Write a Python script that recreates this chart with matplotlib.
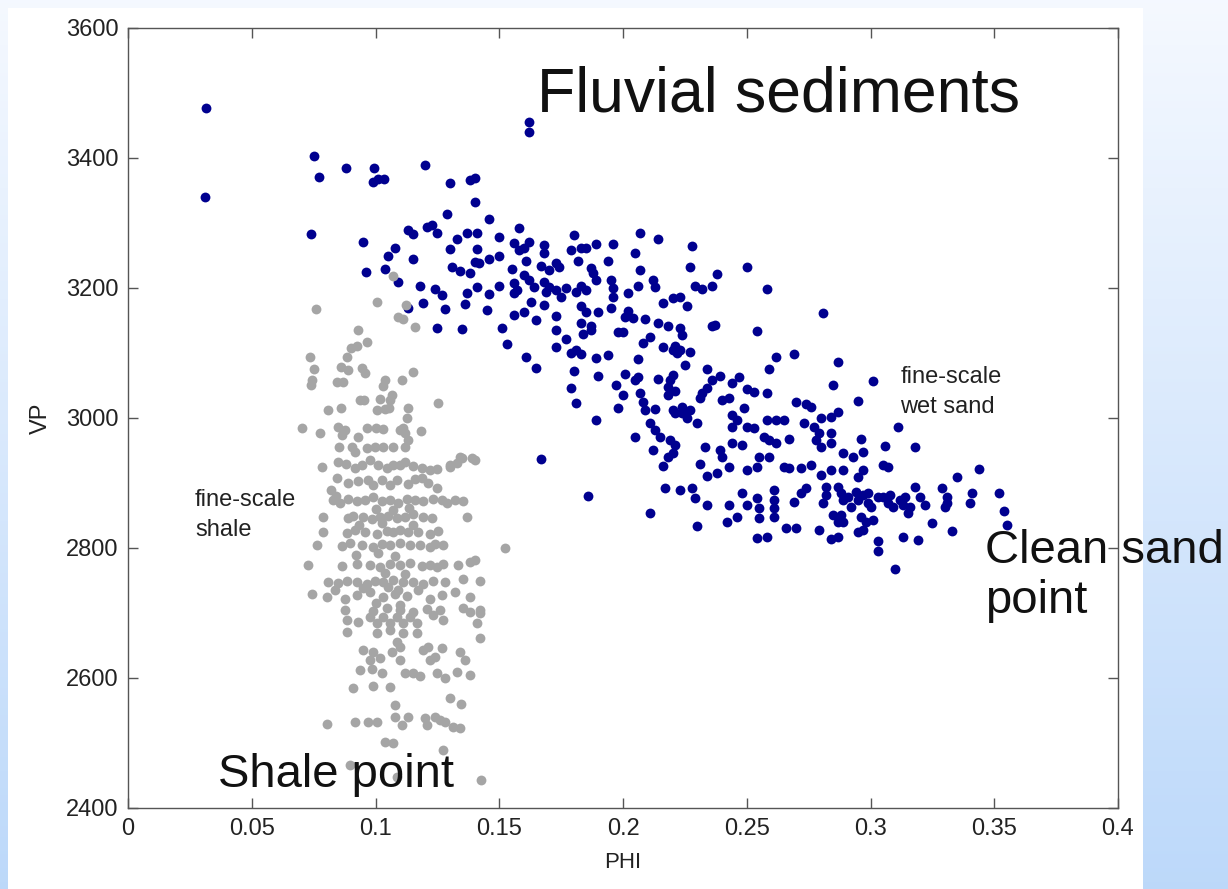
import matplotlib
matplotlib.use("Agg")
import matplotlib.pyplot as plt
from matplotlib.patches import Rectangle
import numpy as np

plt.rcParams["font.family"] = ["Liberation Sans", "DejaVu Sans"]

## fine-scale wet sand (PHI, VP)
sand_phi = [
    0.0315, 0.031, 0.075, 0.077, 0.088, 0.0994, 0.099, 0.101, 0.1034, 0.120, 0.130, 0.138, 0.140, 0.140,
    0.074, 0.095, 0.129, 0.146, 0.113, 0.115, 0.121, 0.123, 0.125, 0.137, 0.141, 0.133, 0.150, 0.108,
    0.105, 0.115, 0.130, 0.141, 0.096, 0.104, 0.109, 0.131, 0.134, 0.138, 0.140, 0.142, 0.146, 0.150,
    0.155, 0.118, 0.124, 0.127, 0.141, 0.137, 0.150, 0.146, 0.156, 0.157, 0.113, 0.119, 0.128, 0.136,
    0.145, 0.125, 0.135, 0.151, 0.156, 0.153, 0.156, 0.158, 0.158, 0.162, 0.162,
    0.162, 0.160, 0.180, 0.207, 0.214, 0.228, 0.168, 0.168, 0.179, 0.183, 0.185, 0.189, 0.196, 0.205,
    0.161, 0.167, 0.173, 0.174, 0.170, 0.182, 0.187, 0.188, 0.189, 0.194, 0.207, 0.227, 0.238, 0.250,
    0.156, 0.160, 0.162, 0.164, 0.168, 0.170, 0.173, 0.169, 0.175, 0.177, 0.181, 0.183, 0.185, 0.195,
    0.196, 0.196, 0.202, 0.206, 0.212, 0.213, 0.229, 0.232, 0.236, 0.258,
    0.163, 0.160, 0.165, 0.168, 0.173, 0.183, 0.185, 0.190, 0.195, 0.202, 0.201, 0.204, 0.216, 0.220,
    0.223, 0.226, 0.209, 0.281,
    0.173, 0.183, 0.187, 0.184, 0.187, 0.198, 0.200, 0.214, 0.218, 0.223, 0.224, 0.236, 0.237, 0.254,
    0.211, 0.208,
    0.173, 0.177, 0.161, 0.165, 0.179, 0.181, 0.183, 0.189, 0.194, 0.206, 0.216, 0.220, 0.222, 0.221,
    0.223, 0.227, 0.225, 0.262, 0.269, 0.287, 0.259,
    0.180, 0.190, 0.201, 0.205, 0.206, 0.214, 0.219, 0.220, 0.218, 0.234, 0.236, 0.239, 0.234, 0.244,
    0.247, 0.250, 0.253, 0.258, 0.285, 0.301, 0.179, 0.197, 0.221,
    0.181, 0.200, 0.198, 0.207, 0.208, 0.209, 0.213, 0.218, 0.220, 0.221, 0.224, 0.224, 0.226, 0.227,
    0.231, 0.232, 0.240, 0.243, 0.244, 0.246, 0.249, 0.253, 0.250, 0.244, 0.270, 0.274, 0.276, 0.295,
    0.287, 0.284, 0.280, 0.273, 0.189, 0.230,
    0.211, 0.213, 0.215, 0.205, 0.219, 0.221, 0.258, 0.262, 0.265, 0.257, 0.259, 0.262, 0.267, 0.277,
    0.279, 0.278, 0.284, 0.280, 0.284, 0.296, 0.306, 0.311, 0.233, 0.239, 0.240, 0.244, 0.248, 0.212,
    0.167, 0.218, 0.220, 0.216, 0.231, 0.238, 0.234, 0.243, 0.250, 0.254, 0.255, 0.259, 0.265, 0.267,
    0.272, 0.276, 0.280, 0.284, 0.289, 0.293, 0.297, 0.289, 0.297, 0.305, 0.307, 0.295,
    0.318, 0.344, 0.335,
    0.272, 0.274, 0.282, 0.282, 0.281, 0.287, 0.288, 0.289, 0.291, 0.292, 0.294, 0.295, 0.297, 0.299,
    0.300, 0.299, 0.296, 0.298, 0.301, 0.295, 0.297, 0.287, 0.289, 0.285, 0.288, 0.279, 0.284, 0.287,
    0.303, 0.303, 0.310, 0.308, 0.307, 0.309, 0.312, 0.314, 0.313, 0.315, 0.316, 0.318, 0.320, 0.322,
    0.313, 0.319, 0.325, 0.329, 0.331, 0.331, 0.330, 0.333, 0.340, 0.341, 0.352, 0.354, 0.355, 0.303,
    0.305,
    0.186, 0.211, 0.217, 0.223, 0.228, 0.229, 0.234, 0.230, 0.243, 0.246, 0.242, 0.248, 0.250, 0.254,
    0.255, 0.255, 0.254, 0.258, 0.261, 0.261, 0.261, 0.261, 0.266, 0.270, 0.269,
]
sand_vp = [
    3477, 3340, 3403, 3371, 3385, 3385, 3363, 3368, 3368, 3389, 3362, 3366, 3369, 3332,
    3283, 3271, 3314, 3306, 3289, 3283, 3294, 3297, 3285, 3285, 3285, 3275, 3278, 3262,
    3249, 3245, 3260, 3260, 3225, 3229, 3209, 3232, 3226, 3223, 3240, 3238, 3245, 3249,
    3229, 3203, 3198, 3189, 3202, 3192, 3203, 3191, 3208, 3197, 3169, 3177, 3168, 3175,
    3166, 3138, 3137, 3138, 3158, 3114, 3269, 3258, 3292, 3455, 3440,
    3271, 3262, 3282, 3285, 3275, 3265, 3266, 3254, 3258, 3262, 3262, 3268, 3268, 3254,
    3242, 3234, 3238, 3232, 3228, 3242, 3231, 3223, 3212, 3242, 3228, 3232, 3222, 3232,
    3192, 3220, 3212, 3202, 3209, 3202, 3197, 3194, 3186, 3200, 3194, 3203, 3197, 3212,
    3200, 3186, 3192, 3203, 3212, 3202, 3203, 3198, 3203, 3198,
    3178, 3163, 3151, 3174, 3157, 3172, 3163, 3163, 3169, 3165, 3155, 3154, 3177, 3185,
    3186, 3172, 3152, 3162,
    3135, 3146, 3142, 3129, 3135, 3132, 3132, 3146, 3142, 3138, 3128, 3142, 3143, 3134,
    3125, 3115,
    3109, 3122, 3094, 3077, 3100, 3105, 3098, 3092, 3097, 3091, 3109, 3105, 3100, 3111,
    3105, 3102, 3082, 3094, 3098, 3086, 3075,
    3072, 3065, 3068, 3058, 3063, 3060, 3058, 3066, 3048, 3075, 3058, 3065, 3046, 3054,
    3063, 3045, 3040, 3038, 3051, 3057, 3046, 3051, 3042,
    3023, 3035, 3015, 3038, 3025, 3012, 3014, 3035, 3012, 3008, 3017, 3008, 3000, 3012,
    3031, 3038, 3028, 3031, 3005, 2997, 3015, 2985, 2986, 2986, 3025, 3022, 3017, 3026,
    3009, 3002, 3000, 2992, 2997, 2992,
    2992, 2982, 2971, 2971, 2966, 2958, 2997, 2997, 2997, 2971, 2966, 2962, 2968, 2986,
    2977, 2966, 2977, 2955, 2962, 2968, 2957, 2986, 2955, 2951, 2940, 2962, 2958, 2951,
    2937, 2940, 2946, 2926, 2929, 2915, 2911, 2925, 2920, 2925, 2940, 2940, 2925, 2923,
    2923, 2928, 2912, 2920, 2946, 2940, 2948, 2920, 2920, 2928, 2925, 2909,
    2955, 2922, 2909,
    2885, 2892, 2894, 2882, 2869, 2894, 2885, 2874, 2878, 2863, 2886, 2874, 2882, 2869,
    2863, 2885, 2848, 2840, 2843, 2825, 2828, 2840, 2840, 2851, 2851, 2828, 2814, 2817,
    2811, 2795, 2768, 2882, 2869, 2863, 2874, 2878, 2866, 2854, 2863, 2894, 2878, 2866,
    2817, 2812, 2838, 2892, 2878, 2869, 2863, 2826, 2869, 2885, 2885, 2857, 2835, 2878,
    2878,
    2880, 2854, 2892, 2889, 2892, 2877, 2866, 2834, 2866, 2848, 2840, 2885, 2866, 2877,
    2862, 2846, 2815, 2817, 2889, 2874, 2862, 2848, 2831, 2831, 2871,
]

## fine-scale shale (PHI, VP)
shale_phi = [
    0.076, 0.1006, 0.107, 0.109, 0.111, 0.116, 0.093, 0.0966, 0.090, 0.0925, 0.0735, 0.0885, 0.075,
    0.086, 0.089, 0.0945, 0.0958, 0.115, 0.1123,
    0.0743, 0.0739, 0.0844, 0.0869, 0.1038, 0.1030, 0.1107, 0.0937, 0.0954, 0.1018, 0.1067, 0.1059,
    0.1253, 0.0808, 0.0861, 0.1006, 0.1038, 0.1055, 0.1131, 0.1127, 0.0703, 0.0776, 0.0848, 0.0877,
    0.0865, 0.0929, 0.0966, 0.1002, 0.1030, 0.1099, 0.1119, 0.1131, 0.1111, 0.1184, 0.0853, 0.0905,
    0.0917, 0.0966, 0.0998, 0.1030, 0.1071, 0.1119, 0.1340, 0.1390, 0.1301,
    0.0784, 0.0848, 0.0917, 0.0945, 0.0978, 0.1010, 0.1046, 0.1071, 0.1099, 0.1119, 0.1188, 0.1220,
    0.1301, 0.1329, 0.1349, 0.1402, 0.0880, 0.1150, 0.1250,
    0.0844, 0.0889, 0.0970, 0.0990, 0.1026, 0.1059, 0.1087, 0.1188, 0.1212, 0.1248, 0.0820, 0.0840,
    0.0930, 0.1130, 0.1160,
    0.0828, 0.0857, 0.0889, 0.0925, 0.0958, 0.0990, 0.1026, 0.1059, 0.1091, 0.1127, 0.1160, 0.1192,
    0.1232, 0.1269, 0.1289, 0.1321, 0.1354,
    0.0788, 0.0889, 0.0909, 0.0949, 0.0986, 0.1018, 0.1051, 0.1087, 0.1119, 0.1152, 0.1192, 0.1228,
    0.1370, 0.1000, 0.1070, 0.1135,
    0.0788, 0.0885, 0.0917, 0.0958, 0.1006, 0.1046, 0.1071, 0.1099, 0.1131, 0.1172, 0.1220, 0.1253,
    0.0935, 0.1025, 0.1150,
    0.0764, 0.0865, 0.0897, 0.0945, 0.0990, 0.1026, 0.1059, 0.1099, 0.1139, 0.1180, 0.1220, 0.1240,
    0.1273, 0.1382, 0.1402, 0.1333, 0.1523, 0.0920, 0.1010, 0.1080,
    0.0727, 0.0865, 0.0925, 0.0978, 0.1018, 0.1059, 0.1099, 0.1139, 0.1188, 0.1220, 0.1248, 0.1273,
    0.1040, 0.1120,
    0.0808, 0.0848, 0.0885, 0.0925, 0.0966, 0.0998, 0.1030, 0.1071, 0.1111, 0.1152, 0.1192, 0.1232,
    0.1281, 0.1354, 0.1422, 0.0950, 0.1050, 0.1090,
    0.0743, 0.0804, 0.0836, 0.0877, 0.0925, 0.0978, 0.1030, 0.1079, 0.1127, 0.1172, 0.1220, 0.1269,
    0.1321, 0.1382, 0.1000, 0.1100,
    0.0877, 0.0990, 0.1046, 0.1099, 0.1152, 0.1208, 0.1261, 0.1354, 0.1422,
    0.0885, 0.0929, 0.0885, 0.0978, 0.1006, 0.1030, 0.1059, 0.1087, 0.1111, 0.1139, 0.1168, 0.1006,
    0.1059, 0.1111, 0.1168, 0.1232, 0.1273, 0.1382, 0.1422, 0.1410, 0.1422, 0.1087, 0.1099,
    0.0949, 0.0990, 0.0978, 0.1018, 0.1067, 0.1099, 0.1192, 0.1212, 0.1220, 0.1240, 0.1269, 0.1341,
    0.1362,
    0.0937, 0.0986, 0.1026, 0.1119, 0.1152, 0.1180, 0.1248, 0.1281, 0.1329, 0.1382,
    0.0909, 0.0990, 0.1059, 0.1301, 0.1345, 0.1079,
    0.0804, 0.0917, 0.0970, 0.1006, 0.1079, 0.1107, 0.1131, 0.1200, 0.1208, 0.1240, 0.1261, 0.1281,
    0.1313, 0.1341,
    0.1038, 0.1071, 0.1273, 0.0897, 0.1087, 0.1426,
]
shale_vp = [
    3168, 3178, 3218, 3155, 3152, 3140, 3135, 3117, 3108, 3111, 3094, 3094, 3075,
    3078, 3074, 3077, 3069, 3071, 3174,
    3058, 3051, 3055, 3055, 3058, 3049, 3058, 3028, 3028, 3029, 3035, 3028,
    3023, 3012, 3015, 3012, 3014, 3015, 3015, 3000, 2985, 2977, 2986, 2982,
    2974, 2971, 2985, 2985, 2983, 2982, 2977, 2966, 2985, 2980, 2955, 2955,
    2948, 2954, 2955, 2955, 2955, 2955, 2940, 2938, 2928,
    2925, 2932, 2923, 2928, 2935, 2928, 2923, 2928, 2928, 2932, 2923, 2920,
    2925, 2931, 2938, 2935, 2930, 2926, 2922,
    2908, 2900, 2905, 2897, 2905, 2897, 2905, 2908, 2900, 2892, 2890, 2880,
    2903, 2898, 2906,
    2874, 2870, 2876, 2872, 2874, 2878, 2872, 2874, 2870, 2876, 2874, 2872,
    2876, 2874, 2870, 2874, 2872,
    2848, 2846, 2850, 2848, 2844, 2848, 2850, 2846, 2848, 2852, 2848, 2846,
    2848, 2860, 2858, 2862,
    2825, 2823, 2827, 2825, 2822, 2826, 2825, 2828, 2824, 2825, 2822, 2826,
    2836, 2838, 2835,
    2805, 2803, 2807, 2805, 2802, 2806, 2805, 2808, 2804, 2805, 2802, 2806,
    2805, 2778, 2782, 2774, 2800, 2790, 2792, 2788,
    2774, 2772, 2776, 2774, 2771, 2775, 2774, 2777, 2773, 2774, 2771, 2775,
    2762, 2760,
    2748, 2746, 2750, 2748, 2745, 2749, 2748, 2751, 2747, 2748, 2745, 2749,
    2748, 2752, 2750, 2738, 2740, 2736,
    2730, 2725, 2735, 2722, 2728, 2733, 2724, 2730, 2726, 2735, 2721, 2728,
    2732, 2725, 2715, 2712,
    2705, 2703, 2707, 2705, 2702, 2706, 2705, 2708, 2704,
    2689, 2686, 2671, 2694, 2685, 2694, 2685, 2694, 2685, 2694, 2685, 2669,
    2674, 2669, 2669, 2697, 2689, 2702, 2700, 2685, 2662, 2655, 2648,
    2643, 2640, 2628, 2631, 2640, 2628, 2643, 2648, 2628, 2632, 2646, 2640,
    2628,
    2612, 2614, 2608, 2608, 2608, 2603, 2608, 2600, 2609, 2605,
    2585, 2588, 2586, 2569, 2560, 2558,
    2529, 2532, 2532, 2532, 2540, 2528, 2540, 2538, 2528, 2540, 2535, 2532,
    2525, 2523,
    2502, 2500, 2489, 2466, 2448, 2443,
]

x_ticks = [0, 0.05, 0.1, 0.15, 0.2, 0.25, 0.3, 0.35, 0.4]
x_tick_labels = ["0", "0.05", "0.1", "0.15", "0.2", "0.25", "0.3", "0.35", "0.4"]
y_ticks = [2400, 2600, 2800, 3000, 3200, 3400, 3600]

W, H = 1228, 889
fig = plt.figure(figsize=(W / 100, H / 100), dpi=100)

## slide background: vertical white -> light blue gradient, white panel on top
bg = fig.add_axes([0, 0, 1, 1], zorder=-1)
grad = np.linspace(0, 1, 256).reshape(-1, 1)
top_c = np.array([0.96, 0.975, 1.0])
bot_c = np.array([0.74, 0.85, 0.98])
img = top_c[None, None, :] * (1 - grad[:, :, None]) + bot_c[None, None, :] * grad[:, :, None]
bg.imshow(img, extent=[0, W, H, 0], aspect="auto")
bg.add_patch(Rectangle((8, 8), 1135, H - 8, facecolor="white", edgecolor="none"))
bg.set_xlim(0, W)
bg.set_ylim(H, 0)
bg.axis("off")

## main axes
ax = fig.add_axes([128 / W, 1 - 808 / H, 990 / W, 780 / H])
ax.scatter(sand_phi, sand_vp, s=50, color="#00008f", linewidths=0, zorder=2)
ax.scatter(shale_phi, shale_vp, s=50, color="#a5a5a5", linewidths=0, zorder=3)

ax.set_xlim(0, 0.4)
ax.set_ylim(2400, 3600)
ax.set_xticks(x_ticks)
ax.set_xticklabels(x_tick_labels)
ax.set_yticks(y_ticks)
ax.tick_params(direction="in", top=True, right=True, length=7, width=1,
               color="#555555", labelsize=17, labelcolor="#222222", pad=7)
for sp in ax.spines.values():
    sp.set_color("#555555")
    sp.set_linewidth(1)

ax.set_xlabel("PHI", fontsize=16, color="#222222", labelpad=9)
ax.set_ylabel("VP", fontsize=17, color="#222222", labelpad=10)

## annotations
ax.text(0.1653, 3497, "Fluvial sediments", fontsize=45, va="center", ha="left", color="#111111")
ax.text(0.3463, 2757, "Clean sand\npoint", fontsize=34, va="center", ha="left", color="#111111",
        linespacing=1.2, zorder=10)
ax.text(0.0364, 2451, "Shale point", fontsize=34, va="center", ha="left", color="#111111", zorder=10)
ax.text(0.0271, 2851, "fine-scale\nshale", fontsize=17, va="center", ha="left", color="#222222",
        linespacing=1.45, zorder=1)
ax.text(0.312, 3040, "fine-scale\nwet sand", fontsize=17, va="center", ha="left", color="#222222",
        linespacing=1.45, zorder=1)

fig.savefig("out.png", dpi=100)
